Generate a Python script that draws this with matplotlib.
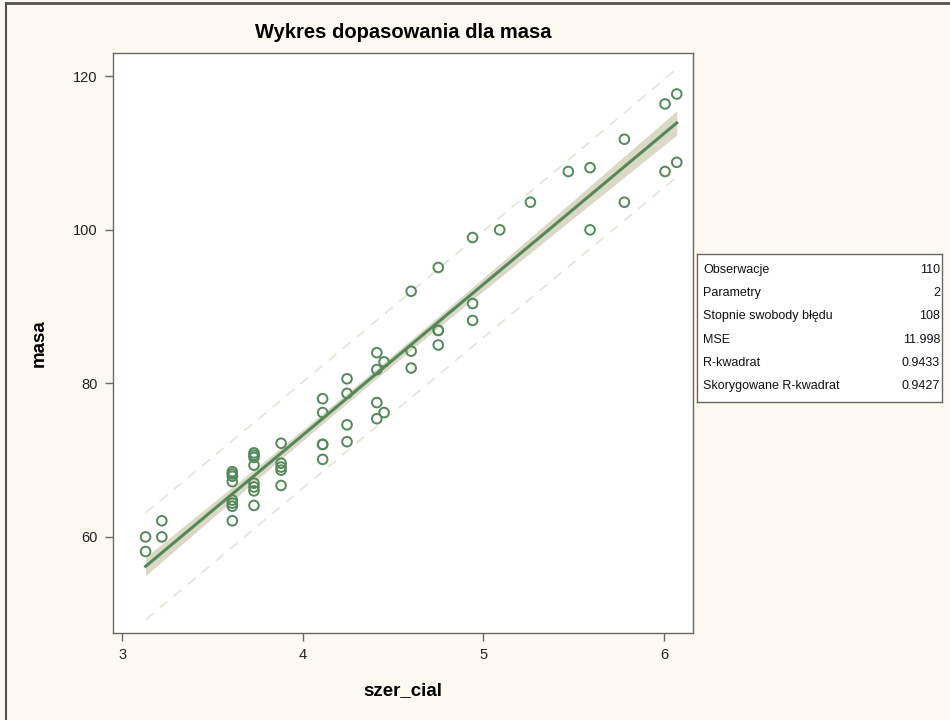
import numpy as np
import matplotlib.pyplot as plt
from matplotlib.lines import Line2D

# szer_cial values (x) and masa values (y)
szer_cial = [3.13, 3.13,
             3.22, 3.22,
             3.61, 3.61, 3.61, 3.61, 3.61, 3.61, 3.61, 3.61,
             3.73, 3.73, 3.73, 3.73, 3.73, 3.73, 3.73, 3.73,
             3.88, 3.88, 3.88, 3.88, 3.88,
             4.11, 4.11, 4.11, 4.11, 4.11,
             4.245, 4.245, 4.245, 4.245,
             4.41, 4.41, 4.41, 4.41,
             4.45, 4.45,
             4.60, 4.60, 4.60,
             4.75, 4.75, 4.75, 4.75,
             4.94, 4.94, 4.94,
             5.09, 5.26, 5.47,
             5.59, 5.59,
             5.78, 5.78,
             6.005, 6.005,
             6.07, 6.07]
masa = [60.0, 58.1,
        62.1, 60.0,
        68.5, 68.2, 67.9, 67.2, 64.8, 64.4, 64.0, 62.1,
        70.95, 70.65, 70.35, 69.35, 67.0, 66.5, 66.0, 64.1,
        72.2, 69.6, 69.1, 68.7, 66.7,
        78.0, 76.2, 72.05, 72.05, 70.1,
        80.6, 78.7, 74.6, 72.4,
        84.0, 81.8, 77.5, 75.4,
        82.8, 76.2,
        92.0, 84.2, 82.0,
        95.1, 86.9, 86.9, 85.0,
        99.0, 90.4, 88.2,
        100.0, 103.6, 107.6,
        108.1, 100.0,
        111.8, 103.6,
        116.4, 107.6,
        117.7, 108.8]

# fit statistics table
stat_names = ["Obserwacje", "Parametry", "Stopnie swobody błędu", "MSE",
              "R-kwadrat", "Skorygowane R-kwadrat"]
stat_values = ["110", "2", "108", "11.998", "0.9433", "0.9427"]
n_obs = 110
mse = 11.998
t_crit = 1.982

green = "#54885a"
band_col = "#dcd8c6"
pred_col = "#e2e6d6"
bg = "#fdf9f1"
spine_col = "#6b675c"
font = ["Liberation Sans", "DejaVu Sans"]

x = np.array(szer_cial)
y = np.array(masa)
slope, intercept = np.polyfit(x, y, 1)
xbar = x.mean()
sxx = x.var() * n_obs

xs = np.linspace(x.min(), x.max(), 200)
fit = intercept + slope * xs
se_mean = np.sqrt(mse * (1.0 / n_obs + (xs - xbar) ** 2 / sxx))
se_pred = np.sqrt(mse * (1.0 + 1.0 / n_obs + (xs - xbar) ** 2 / sxx))

fig = plt.figure(figsize=(9.5, 7.2), dpi=100, facecolor=bg)
ax = fig.add_axes([0.119, 0.121, 0.6105, 0.805])
ax.set_facecolor("white")

ax.fill_between(xs, fit - t_crit * se_mean, fit + t_crit * se_mean,
                color=band_col, lw=0, zorder=1)
ax.plot(xs, fit + t_crit * se_pred, color=pred_col, lw=1.2, ls=(0, (6, 5)), zorder=1)
ax.plot(xs, fit - t_crit * se_pred, color=pred_col, lw=1.2, ls=(0, (6, 5)), zorder=1)
ax.plot(xs, fit, color=green, lw=2.2, zorder=2)
ax.scatter(x, y, s=48, facecolors="none", edgecolors=green, linewidths=1.4, zorder=3)

ax.set_xlim(2.95, 6.16)
ax.set_ylim(47.5, 123)
ax.set_xticks([3, 4, 5, 6])
ax.set_yticks([60, 80, 100, 120])

for lab in ax.get_xticklabels() + ax.get_yticklabels():
    lab.set_fontfamily(font)
    lab.set_fontsize(10.5)
    lab.set_color("#222222")
ax.tick_params(direction="out", length=6, width=1, color=spine_col, pad=5)
for sp in ax.spines.values():
    sp.set_color(spine_col)
    sp.set_linewidth(1)

ax.set_xlabel("szer_cial", fontfamily=font, fontweight="bold", fontsize=13.5, labelpad=14)
ax.set_ylabel("masa", fontfamily=font, fontweight="bold", fontsize=13.5, labelpad=18)
ax.set_title("Wykres dopasowania dla masa", fontfamily=font, fontweight="bold",
             fontsize=14.5, pad=11)

# statistics box to the right of the plot
box_top, box_bot = 254, 402
box = fig.add_axes([697 / 950, 1 - box_bot / 720, 245 / 950, (box_bot - box_top) / 720])
box.set_xlim(0, 245)
box.set_ylim(box_bot, box_top)
box.set_xticks([])
box.set_yticks([])
box.set_facecolor("white")
for sp in box.spines.values():
    sp.set_color(spine_col)
    sp.set_linewidth(1)
for i, (nm, val) in enumerate(zip(stat_names, stat_values)):
    yy = 270 + i * 23.2
    box.text(6, yy, nm, ha="left", va="center", fontsize=9,
             fontfamily=font, color="#111111")
    box.text(243, yy, val, ha="right", va="center", fontsize=9,
             fontfamily=font, color="#111111")

# outer frame lines at the top and left edges
fig.add_artist(Line2D([6 / 950, 1], [1 - 3 / 720, 1 - 3 / 720], color="#55524a", lw=2))
fig.add_artist(Line2D([6 / 950, 6 / 950], [0, 1 - 3 / 720], color="#55524a", lw=1.5))

fig.savefig("out.png", dpi=100, facecolor=bg)
